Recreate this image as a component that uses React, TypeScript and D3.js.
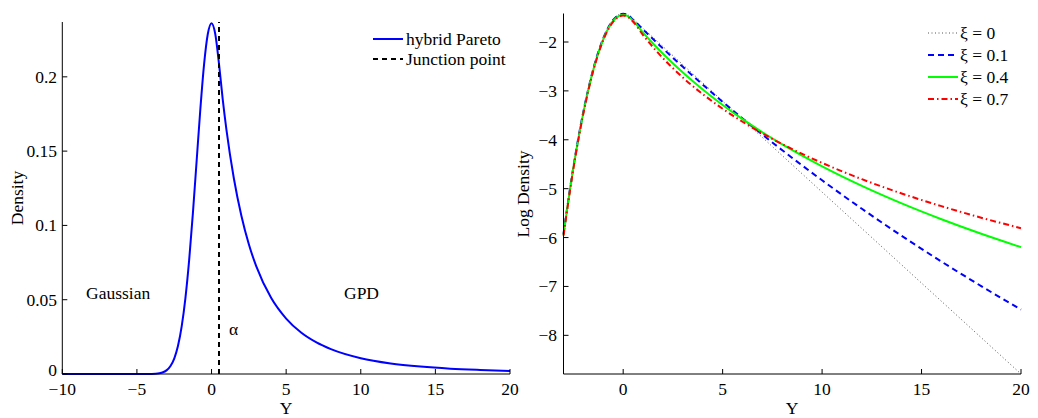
import React from "react";
import * as d3 from "d3";

// Left panel: hybrid Pareto density
const densX = [-10, -6, -5, -4.5, -4, -3.75, -3.5, -3.25, -3, -2.75, -2.5, -2.25, -2, -1.75, -1.5, -1.25, -1, -0.75, -0.5, -0.25, 0, 0.25, 0.5, 0.75, 1, 1.5, 2, 2.5, 3, 4, 5, 6, 7, 8, 10, 12, 14, 16, 18, 20];
const densY = [0, 0, 0, 0.00001, 0.00008, 0.00021, 0.00052, 0.0012, 0.0026, 0.0054, 0.0104, 0.0188, 0.032, 0.0511, 0.0766, 0.1081, 0.1432, 0.1782, 0.2084, 0.2288, 0.2361, 0.2288, 0.2088, 0.1848, 0.1643, 0.1314, 0.1065, 0.0873, 0.0724, 0.0511, 0.0373, 0.0279, 0.0214, 0.0167, 0.0106, 0.0071, 0.005, 0.0036, 0.0027, 0.002];
const junction = 0.5;
const densXTicks = [-10, -5, 0, 5, 10, 15, 20];
const densYTicks = [0, 0.05, 0.1, 0.15, 0.2];

// Right panel: log densities for several xi
const logX = [-3, -2.5, -2, -1.5, -1, -0.5, -0.25, 0, 0.25, 0.5, 1, 1.5, 2, 3, 4, 5, 6, 7, 8, 10, 12, 14, 16, 18, 20];
const logXi0 = [-5.917, -4.542, -3.417, -2.542, -1.917, -1.542, -1.448, -1.417, -1.448, -1.534, -1.72, -1.906, -2.092, -2.464, -2.836, -3.209, -3.581, -3.953, -4.325, -5.07, -5.814, -6.559, -7.303, -8.047, -8.791];
const logXi01 = [-5.924, -4.549, -3.424, -2.549, -1.924, -1.549, -1.455, -1.424, -1.455, -1.544, -1.744, -1.94, -2.133, -2.508, -2.871, -3.223, -3.563, -3.894, -4.214, -4.829, -5.411, -5.964, -6.491, -6.993, -7.474];
const logXi04 = [-5.944, -4.569, -3.444, -2.569, -1.944, -1.569, -1.475, -1.444, -1.475, -1.567, -1.807, -2.03, -2.24, -2.626, -2.973, -3.289, -3.579, -3.847, -4.096, -4.545, -4.944, -5.302, -5.626, -5.923, -6.197];
const logXi07 = [-5.96, -4.585, -3.46, -2.585, -1.96, -1.585, -1.491, -1.46, -1.491, -1.585, -1.858, -2.106, -2.331, -2.727, -3.067, -3.365, -3.631, -3.871, -4.089, -4.473, -4.806, -5.098, -5.358, -5.594, -5.808];
const xiLabels = ["ξ = 0", "ξ = 0.1", "ξ = 0.4", "ξ = 0.7"];
const logXTicks = [0, 5, 10, 15, 20];
const logYTicks = [-8, -7, -6, -5, -4, -3, -2];

const FONT = "'Liberation Serif', 'Times New Roman', serif";
const FS = 17.5;
const fmt = (v: number) => String(v).replace("-", "\u2212");

export default function App() {
  const xL = d3.scaleLinear().domain([-10, 20]).range([62.3, 510]);
  const yL = d3.scaleLinear().domain([0, 0.2369]).range([374, 22]);
  const xR = d3.scaleLinear().domain([-3, 20]).range([563.5, 1021]);
  const yR = d3.scaleLinear().domain([-8.791, -1.417]).range([374, 13.5]);

  const lineL = d3
    .line<number>()
    .x((_, i) => xL(densX[i]))
    .y((d) => yL(d))
    .curve(d3.curveMonotoneX);
  const lineR = d3
    .line<number>()
    .x((_, i) => xR(logX[i]))
    .y((d) => yR(d))
    .curve(d3.curveMonotoneX);

  const series = [
    { v: logXi0, stroke: "#555", width: 1, dash: "1,2.5" },
    { v: logXi01, stroke: "#0000ff", width: 2, dash: "6,4" },
    { v: logXi04, stroke: "#00ff00", width: 2, dash: "" },
    { v: logXi07, stroke: "#ff0000", width: 2, dash: "6,3,1.5,3" },
  ];

  const tickLen = 5;

  return (
    <svg
      width={1038}
      height={418}
      style={{ position: "absolute", left: 0, top: 0, background: "#fff" }}
      fontFamily={FONT}
      fontSize={FS}
    >
      <rect x={0} y={0} width={1038} height={418} fill="#fff" />
      {/* ---------- LEFT PANEL ---------- */}
      <g>
        <path d={lineL(densY) || ""} fill="none" stroke="#0000ff" strokeWidth={2} />
        <line
          x1={xL(junction)}
          x2={xL(junction)}
          y1={yL(0)}
          y2={yL(0.2369)}
          stroke="#000"
          strokeWidth={2}
          strokeDasharray="5,4"
        />
        <line x1={xL(-10)} x2={xL(20)} y1={374} y2={374} stroke="#000" strokeWidth={1} />
        <line x1={62.3} x2={62.3} y1={yL(0.2369)} y2={374} stroke="#000" strokeWidth={1} />
        {densXTicks.map((t) => (
          <g key={"lx" + t}>
            <line x1={xL(t)} x2={xL(t)} y1={374} y2={374 - tickLen} stroke="#000" />
            <text x={xL(t)} y={395} textAnchor="middle">
              {fmt(t)}
            </text>
          </g>
        ))}
        {densYTicks.map((t) => (
          <g key={"ly" + t}>
            <line x1={62.3} x2={62.3 + tickLen} y1={yL(t)} y2={yL(t)} stroke="#000" />
            <text x={57} y={yL(t) + (t === 0 ? 2 : 6)} textAnchor="end">
              {fmt(t)}
            </text>
          </g>
        ))}
        <text x={286} y={413.5} textAnchor="middle">
          Y
        </text>
        <text transform="translate(23,198) rotate(-90)" textAnchor="middle">
          Density
        </text>
        <text x={86} y={299}>Gaussian</text>
        <text x={344} y={299}>GPD</text>
        <text x={229} y={335}>α</text>
        <line x1={373} x2={403} y1={39} y2={39} stroke="#0000ff" strokeWidth={2} />
        <text x={406} y={45}>hybrid Pareto</text>
        <line x1={373} x2={403} y1={59} y2={59} stroke="#000" strokeWidth={2} strokeDasharray="5,4" />
        <text x={406} y={65}>Junction point</text>
      </g>

      {/* ---------- RIGHT PANEL ---------- */}
      <g>
        {series.map((s, i) => (
          <path
            key={"s" + i}
            d={lineR(s.v) || ""}
            fill="none"
            stroke={s.stroke}
            strokeWidth={s.width}
            strokeDasharray={s.dash || undefined}
          />
        ))}
        <line x1={563.5} x2={1021} y1={374} y2={374} stroke="#000" />
        <line x1={563.5} x2={563.5} y1={13.5} y2={374} stroke="#000" />
        {logXTicks.map((t) => (
          <g key={"rx" + t}>
            <line x1={xR(t)} x2={xR(t)} y1={374} y2={374 - tickLen} stroke="#000" />
            <text x={xR(t)} y={395} textAnchor="middle">
              {fmt(t)}
            </text>
          </g>
        ))}
        {logYTicks.map((t) => (
          <g key={"ry" + t}>
            <line x1={563.5} x2={563.5 + tickLen} y1={yR(t)} y2={yR(t)} stroke="#000" />
            <text x={557} y={yR(t) + 6} textAnchor="end">
              {fmt(t)}
            </text>
          </g>
        ))}
        <text x={792} y={413.5} textAnchor="middle">
          Y
        </text>
        <text transform="translate(529,194) rotate(-90)" textAnchor="middle">
          Log Density
        </text>
        {series.map((s, i) => (
          <g key={"lg" + i}>
            <line
              x1={928}
              x2={958}
              y1={33 + i * 22}
              y2={33 + i * 22}
              stroke={s.stroke}
              strokeWidth={s.width}
              strokeDasharray={s.dash || undefined}
            />
            <text x={960} y={39 + i * 22}>
              {xiLabels[i]}
            </text>
          </g>
        ))}
      </g>
    </svg>
  );
}
